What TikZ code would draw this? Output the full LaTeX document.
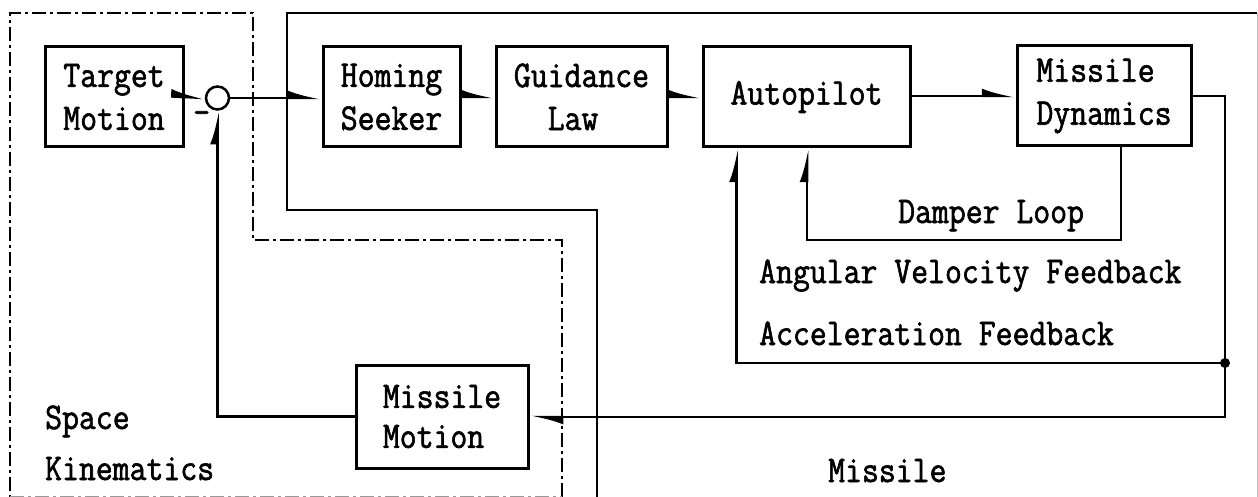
\documentclass[tikz,border=0pt]{standalone}
\usepackage{fontspec}
\setmonofont{Latin Modern Mono}[FakeStretch=0.87, FakeBold=1.6]
\usetikzlibrary{arrows.meta}
\tikzset{
  txt/.style={font=\ttfamily\fontsize{37.7}{43}\selectfont},
  blk/.style={draw, line width=3pt, txt, align=left, inner sep=0pt},
  lbl/.style={txt, inner sep=0pt, anchor=base west},
  conn/.style={line width=2.5pt, -{Latex[harpoon,length=27pt,width=15pt]}},
  kinzone/.style={line width=2pt, dash pattern=on 14pt off 4pt on 3pt off 4pt},
  miszone/.style={line width=2pt},
}
\begin{document}
\begin{tikzpicture}[x=1pt,y=-1pt]
\useasboundingbox (0,0) rectangle (1258,497);

% subsystem boundaries
\draw[kinzone] (562,497) -- (562,240) -- (253,240) -- (253,13) -- (10,13) -- (10,497);
\draw[kinzone, black!40] (10,497) -- (562,497);
\draw[miszone] (597,497) -- (597,210) -- (287,210) -- (287,13) -- (1257,13);
\draw[line width=1pt, black!25] (1257,13) -- (1257,497);

% blocks
\node[blk, minimum width=138pt, minimum height=100pt] (tm) at (114,97) {Target\\Motion};
\node[draw, circle, line width=2.5pt, minimum size=23pt, inner sep=0pt] (sum) at (217.5,98) {};
\node[blk, minimum width=137pt, minimum height=100pt] (hs) at (391.5,97) {Homing\\Seeker};
\node[blk, minimum width=171pt, minimum height=100pt] (gl) at (581.5,97) {Guidance\\\phantom{Gu}Law};
\node[blk, minimum width=207pt, minimum height=100pt] (ap) at (806.5,97) {Autopilot};
\node[blk, minimum width=174pt, minimum height=100pt] (md) at (1104,96) {Missile\\Dynamics};
\node[blk, minimum width=172pt, minimum height=103pt,
      font=\ttfamily\fontsize{37.7}{40}\selectfont] (mm) at (442,416.5) {Missile\\Motion};

% junction points
\coordinate (rt) at (1225,417);
\coordinate (dot) at (1225,363);
\coordinate (dl) at (807,240);

% forward path
\draw[conn] (tm.east) -- (sum.west);
\draw[conn] (sum.east) -- (sum.east -| hs.west);
\draw[conn] (hs.east |- gl.west) -- (gl.west);
\draw[conn] (gl.east) -- (ap.west);
\draw[conn] (ap.east |- md.west) -- (md.west);

% feedback paths
\draw[conn] (md.east) -| (rt) -- (rt -| mm.east);
\draw[conn] (mm.west) -| (sum.south);
\draw[conn] (dot) -| ([xshift=35pt]ap.south west);
\draw[conn] ([xshift=17pt]md.south) |- (dl) -- (dl |- ap.south);
\fill (dot) circle (5pt);

% labels
\node[lbl] (minus) at (193,124) {-};
\node[lbl] (damper) at (898,223) {Damper Loop};
\node[lbl] (angvel) at (759,283) {Angular Velocity Feedback};
\node[lbl] (accel) at (759,345) {Acceleration Feedback};
\node[lbl] (space) at (45,429) {Space};
\node[lbl] (kinem) at (45,480) {Kinematics};
\node[lbl] (missile) at (828,482) {Missile};
\end{tikzpicture}
\end{document}
